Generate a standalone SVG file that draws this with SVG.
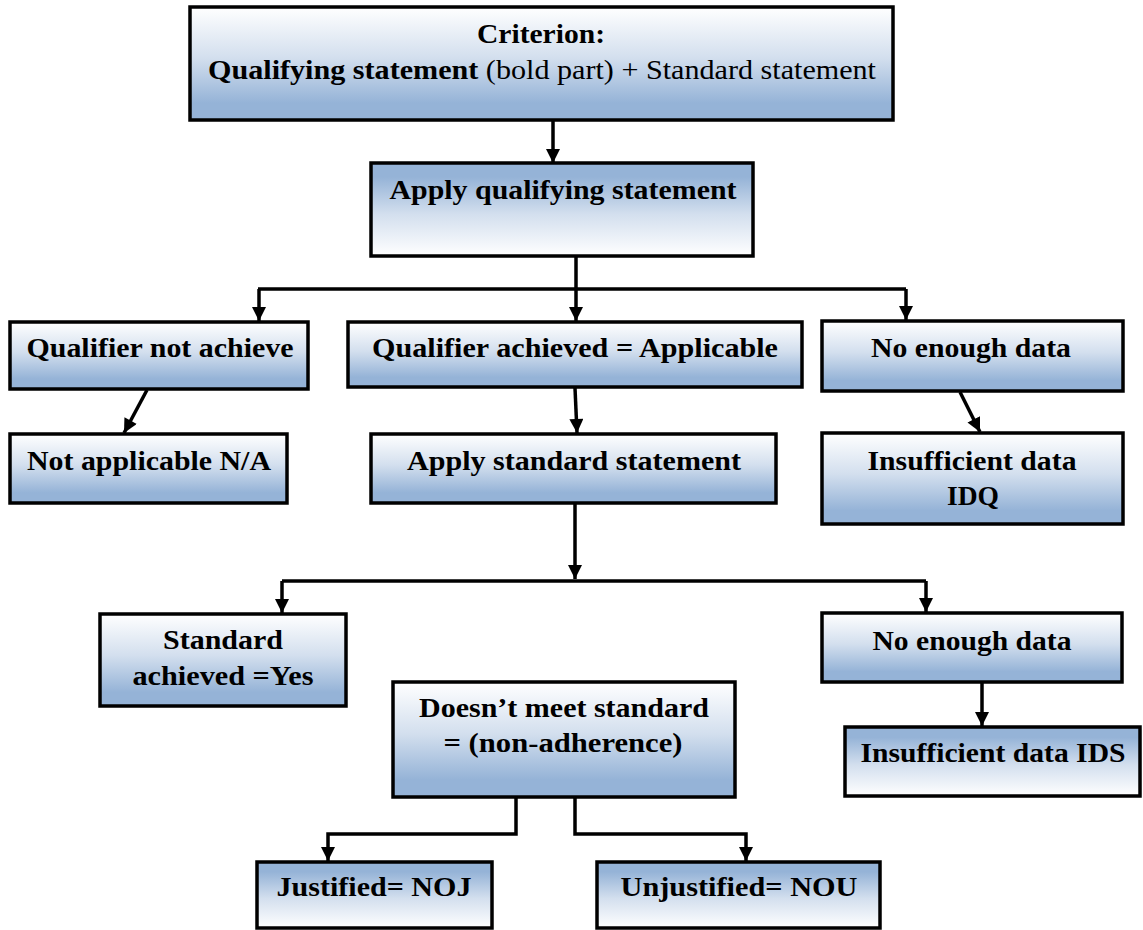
<svg xmlns="http://www.w3.org/2000/svg" width="1143" height="930" viewBox="0 0 1143 930">
<defs>
<linearGradient id="gDown" x1="0" y1="0" x2="0" y2="1">
<stop offset="0" stop-color="#ffffff"/>
<stop offset="0.45" stop-color="#d3dfee"/>
<stop offset="0.85" stop-color="#95b3d7"/>
<stop offset="1" stop-color="#95b3d7"/>
</linearGradient>
<linearGradient id="gUp" x1="0" y1="0" x2="0" y2="1">
<stop offset="0" stop-color="#95b3d7"/>
<stop offset="0.15" stop-color="#95b3d7"/>
<stop offset="0.55" stop-color="#d3dfee"/>
<stop offset="1" stop-color="#ffffff"/>
</linearGradient>
<marker id="arr" viewBox="0 0 14 14" refX="14" refY="7" markerWidth="15" markerHeight="14" orient="auto" markerUnits="userSpaceOnUse">
<path d="M0,0 L14,7 L0,14 Z" fill="#000"/>
</marker>
</defs>
<style>
.box{stroke:#000;stroke-width:3.5}
.down{fill:url(#gDown)}
.up{fill:url(#gUp)}
text{font-size:28px;font-weight:bold;fill:#000;text-anchor:middle}
.n{font-weight:normal}
.c{fill:none;stroke:#000;stroke-width:3.5}
.a{marker-end:url(#arr)}
</style>
<rect width="1143" height="930" fill="#fff"/>
<g id="connectors">
<path class="c a" d="M553,120 V163"/>
<path class="c" d="M576,256 V289 M258,289 H906"/>
<path class="c a" d="M259,289 V321"/>
<path class="c a" d="M576,289 V321"/>
<path class="c a" d="M906,289 V320"/>
<path class="c a" d="M147,390 L124,433"/>
<path class="c a" d="M575,388 L577,433"/>
<path class="c a" d="M960,392 L980,432"/>
<path class="c a" d="M575,503 V579"/>
<path class="c" d="M282,581 H926"/>
<path class="c a" d="M282,581 V613"/>
<path class="c a" d="M926,581 V612"/>
<path class="c a" d="M982,683 V726"/>
<path class="c a" d="M516,797 V834 H328 V861"/>
<path class="c a" d="M575,797 V834 H746 V861"/>
</g>
<g font-family="Liberation Serif, DejaVu Serif, serif" lengthAdjust="spacingAndGlyphs">
<g id="criterion">
<rect class="box down" x="190" y="7" width="703" height="113"/>
<text x="541" y="43" textLength="128" lengthAdjust="spacingAndGlyphs">Criterion:</text>
<text x="542" y="79" textLength="668" lengthAdjust="spacingAndGlyphs">Qualifying statement<tspan class="n"> (bold part) + Standard statement</tspan></text>
</g>
<g id="apply-qualifying">
<rect class="box up" x="371" y="163" width="382" height="93"/>
<text x="563" y="199" textLength="347" lengthAdjust="spacingAndGlyphs">Apply qualifying statement</text>
</g>
<g id="qualifier-not-achieve">
<rect class="box down" x="10" y="322" width="298" height="67"/>
<text x="160" y="357" textLength="267" lengthAdjust="spacingAndGlyphs">Qualifier not achieve</text>
</g>
<g id="qualifier-achieved">
<rect class="box down" x="348" y="322" width="454" height="65"/>
<text x="575" y="357" textLength="406" lengthAdjust="spacingAndGlyphs">Qualifier achieved = Applicable</text>
</g>
<g id="no-enough-data-1">
<rect class="box down" x="822" y="321" width="301" height="70"/>
<text x="971" y="357" textLength="200" lengthAdjust="spacingAndGlyphs">No enough data</text>
</g>
<g id="not-applicable">
<rect class="box down" x="10" y="434" width="277" height="69"/>
<text x="149" y="470" textLength="244" lengthAdjust="spacingAndGlyphs">Not applicable N/A</text>
</g>
<g id="apply-standard">
<rect class="box down" x="371" y="434" width="405" height="69"/>
<text x="574" y="470" textLength="334" lengthAdjust="spacingAndGlyphs">Apply standard statement</text>
</g>
<g id="idq">
<rect class="box down" x="822" y="433" width="301" height="91"/>
<text x="972" y="470" textLength="209" lengthAdjust="spacingAndGlyphs">Insufficient data</text>
<text x="973" y="505" textLength="52" lengthAdjust="spacingAndGlyphs">IDQ</text>
</g>
<g id="standard-achieved">
<rect class="box down" x="100" y="614" width="246" height="92"/>
<text x="223" y="649" textLength="120" lengthAdjust="spacingAndGlyphs">Standard</text>
<text x="223" y="685" textLength="181" lengthAdjust="spacingAndGlyphs">achieved =Yes</text>
</g>
<g id="no-enough-data-2">
<rect class="box down" x="822" y="613" width="300" height="69"/>
<text x="972" y="650" textLength="199" lengthAdjust="spacingAndGlyphs">No enough data</text>
</g>
<g id="doesnt-meet">
<rect class="box down" x="393" y="682" width="342" height="115"/>
<text x="564" y="717" textLength="290" lengthAdjust="spacingAndGlyphs">Doesn’t meet standard</text>
<text x="563" y="752" textLength="239" lengthAdjust="spacingAndGlyphs">= (non-adherence)</text>
</g>
<g id="ids">
<rect class="box up" x="845" y="727" width="295" height="69"/>
<text x="993" y="762" textLength="265" lengthAdjust="spacingAndGlyphs">Insufficient data IDS</text>
</g>
<g id="noj">
<rect class="box up" x="257" y="862" width="235" height="66"/>
<text x="374" y="896" textLength="195" lengthAdjust="spacingAndGlyphs">Justified= NOJ</text>
</g>
<g id="nou">
<rect class="box up" x="597" y="862" width="283" height="66"/>
<text x="739" y="896" textLength="237" lengthAdjust="spacingAndGlyphs">Unjustified= NOU</text>
</g>
</g>
</svg>
